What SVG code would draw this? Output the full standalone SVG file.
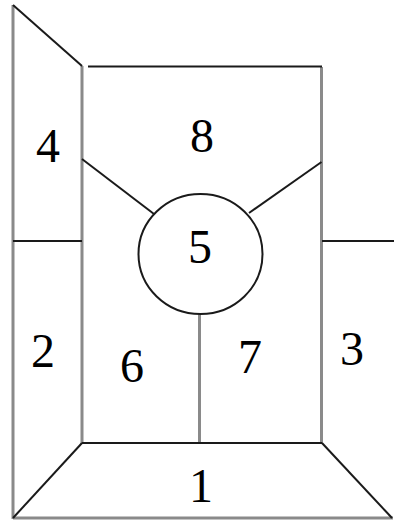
<svg xmlns="http://www.w3.org/2000/svg" width="394" height="521" viewBox="0 0 394 521">
<style>
.g{stroke:#8a8a8a;stroke-width:3;fill:none}
.k{stroke:#1a1a1a;stroke-width:2;fill:none}
text{font-family:"Liberation Serif","Times New Roman",serif;font-size:48px;fill:#000;text-anchor:middle}
</style>
<rect width="394" height="521" fill="#fff"/>
<g id="lines">
<line class="g" x1="13" y1="5" x2="13" y2="519"/>
<line class="g" x1="82" y1="66" x2="82" y2="444"/>
<line class="g" x1="321.5" y1="67" x2="321.5" y2="443"/>
<line class="g" x1="199.5" y1="314" x2="199.5" y2="443"/>
<line class="g" x1="13" y1="518" x2="393" y2="518"/>
<line class="k" x1="13" y1="5" x2="82" y2="66"/>
<line class="k" x1="88" y1="66.5" x2="322" y2="66.5"/>
<line class="k" x1="13" y1="241" x2="82" y2="241"/>
<line class="k" x1="322" y1="241" x2="394" y2="241"/>
<line class="k" x1="82" y1="159" x2="154" y2="214"/>
<line class="k" x1="321.5" y1="162" x2="249" y2="213"/>
<line class="k" x1="82" y1="443" x2="322" y2="443"/>
<line class="k" x1="82" y1="443" x2="13" y2="518"/>
<line class="k" x1="322" y1="443" x2="392" y2="518"/>
<ellipse class="k" cx="200.5" cy="254" rx="62" ry="60"/>
</g>
<g id="r1"><text x="201" y="502">1</text></g>
<g id="r2"><text x="43" y="367">2</text></g>
<g id="r3"><text x="352" y="365">3</text></g>
<g id="r4"><text x="48" y="162">4</text></g>
<g id="r5"><text x="200" y="263">5</text></g>
<g id="r6"><text x="132" y="382">6</text></g>
<g id="r7"><text x="250" y="373">7</text></g>
<g id="r8"><text x="202" y="152">8</text></g>
</svg>
